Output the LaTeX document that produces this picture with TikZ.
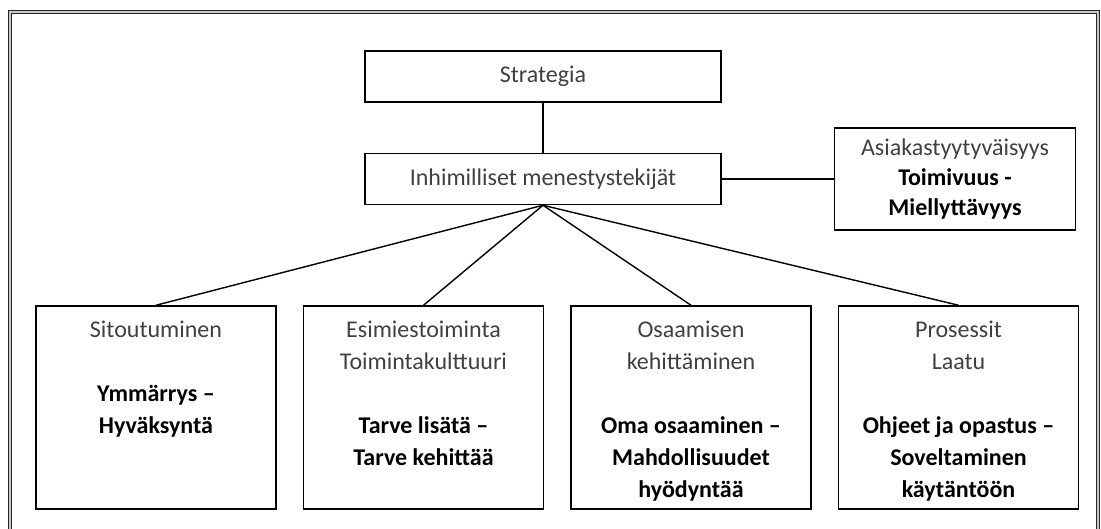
\documentclass[tikz,border=0pt]{standalone}
\usepackage{fontspec}
\setmainfont{Carlito}
\usetikzlibrary{positioning}
\definecolor{txtgray}{RGB}{64,64,64}
\newcommand{\bld}[1]{{\color{black}\bfseries #1}}

\begin{document}
\begin{tikzpicture}[x=1pt,y=-1pt,font=\fontsize{24}{32}\selectfont,
    box/.style={draw,line width=1.5pt,inner sep=0pt,text=txtgray,align=center},
    topbox/.style={box,minimum width=356pt,minimum height=51pt},
    sidebox/.style={box,minimum width=241pt,minimum height=102pt,font=\fontsize{24}{30}\selectfont},
    factorbox/.style={box,minimum width=240pt,minimum height=203pt},
    factortext/.style={text=txtgray,align=center,inner sep=0pt,anchor=north},
    link/.style={line width=1.4pt},
    outerframe/.style={draw=black!85,double=gray!45,line width=1.2pt,double distance=1.8pt}]
    \useasboundingbox (0,0) rectangle (1101,528);
    \draw[outerframe] (10.1,540) |- (1097.9,12.1) -- (1097.9,540);
    \node[topbox] (strat) at (543,76.5) {Strategia};
    \node[topbox,below=50pt of strat] (human) {Inhimilliset menestystekijät};
    \node[sidebox,right=112pt of human] (cust) {Asiakastyytyväisyys\\ \bld{Toimivuus -}\\ \bld{Miellyttävyys}};
    \node[factorbox] (commit) at (156,407.5) {};
    \node[factorbox,right=26pt of commit] (lead) {};
    \node[factorbox,right=26pt of lead] (skill) {};
    \node[factorbox,right=26pt of skill] (proc) {};
    \node[factortext,below=16pt of commit.north] (commit-t) {Sitoutuminen\\[32pt] \bld{Ymmärrys –}\\ \bld{Hyväksyntä}};
    \node[factortext,below=16pt of lead.north] (lead-t) {Esimiestoiminta\\ Toimintakulttuuri\\[32pt] \bld{Tarve lisätä –}\\ \bld{Tarve kehittää}};
    \node[factortext,below=16pt of skill.north] (skill-t) {Osaamisen\\ kehittäminen\\[32pt] \bld{Oma osaaminen –}\\ \bld{Mahdollisuudet}\\ \bld{hyödyntää}};
    \node[factortext,below=16pt of proc.north] (proc-t) {Prosessit\\ Laatu\\[32pt] \bld{Ohjeet ja opastus –}\\ \bld{Soveltaminen}\\ \bld{käytäntöön}};
    \draw[link] (strat) -- (human);
    \draw[link] (human) -- (cust);
    \foreach \f in {commit,lead,skill,proc}
      \draw[link] (human.south) -- (\f.north);
\end{tikzpicture}
\end{document}
